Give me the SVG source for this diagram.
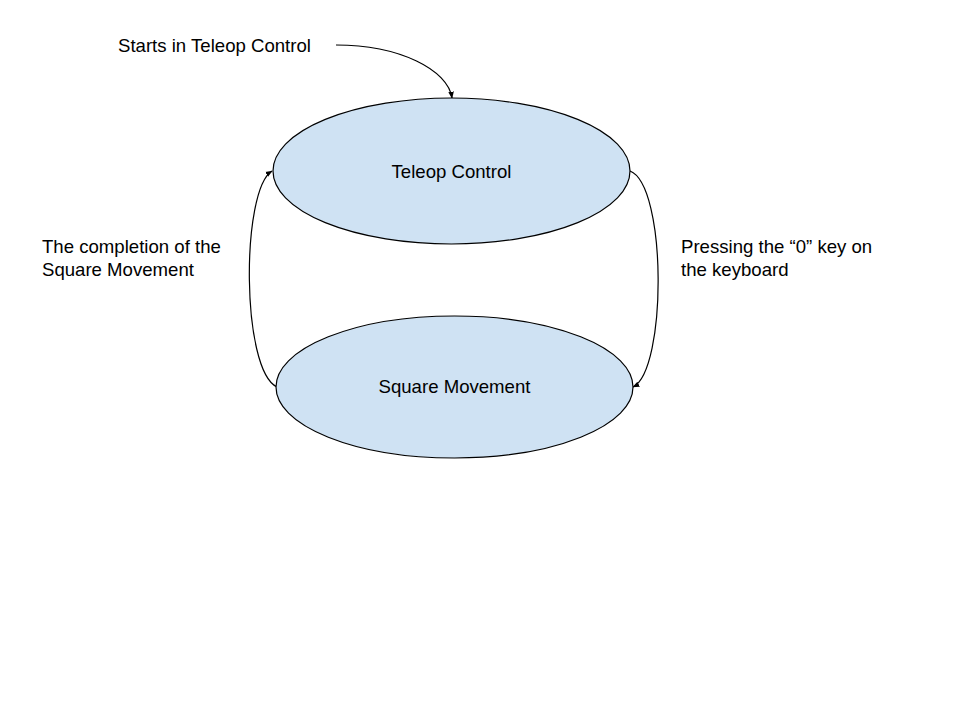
<svg xmlns="http://www.w3.org/2000/svg" width="960" height="720" viewBox="0 0 960 720">
<style>
.node{fill:#cfe2f3;stroke:#000;stroke-width:1.2}
.lbl{font-family:"Liberation Sans",Arial,sans-serif;font-size:18.6px;fill:#000}
.c{text-anchor:middle}
.edge{fill:none;stroke:#000;stroke-width:1.2;marker-end:url(#ah)}
</style>
<defs>
<marker id="ah" viewBox="0 0 10 10" refX="9" refY="5" markerWidth="7" markerHeight="7" orient="auto" markerUnits="userSpaceOnUse">
<path d="M0,1 L10,5 L0,9 Z" fill="#000"/>
</marker>
</defs>
<rect width="960" height="720" fill="#fff"/>
<g id="connectors">
<path class="edge" d="M336,45 C400,45 448,70 452,98"/>
<path class="edge" d="M277,387 C241,370 241,190 272,171"/>
<path class="edge" d="M630,171 C667,185 667,370 633,387"/>
</g>
<g id="teleop">
<ellipse class="node" cx="451.5" cy="171" rx="178.5" ry="73"/>
<text class="lbl c" x="451.5" y="178">Teleop Control</text>
</g>
<g id="square">
<ellipse class="node" cx="454.5" cy="387" rx="178.5" ry="71"/>
<text class="lbl c" x="454.5" y="393">Square Movement</text>
</g>
<g id="labels">
<text class="lbl" x="118" y="52">Starts in Teleop Control</text>
<text class="lbl" x="42" y="253">The completion of the</text>
<text class="lbl" x="42" y="276">Square Movement</text>
<text class="lbl" x="681" y="253">Pressing the “0” key on</text>
<text class="lbl" x="681" y="276">the keyboard</text>
</g>
</svg>
